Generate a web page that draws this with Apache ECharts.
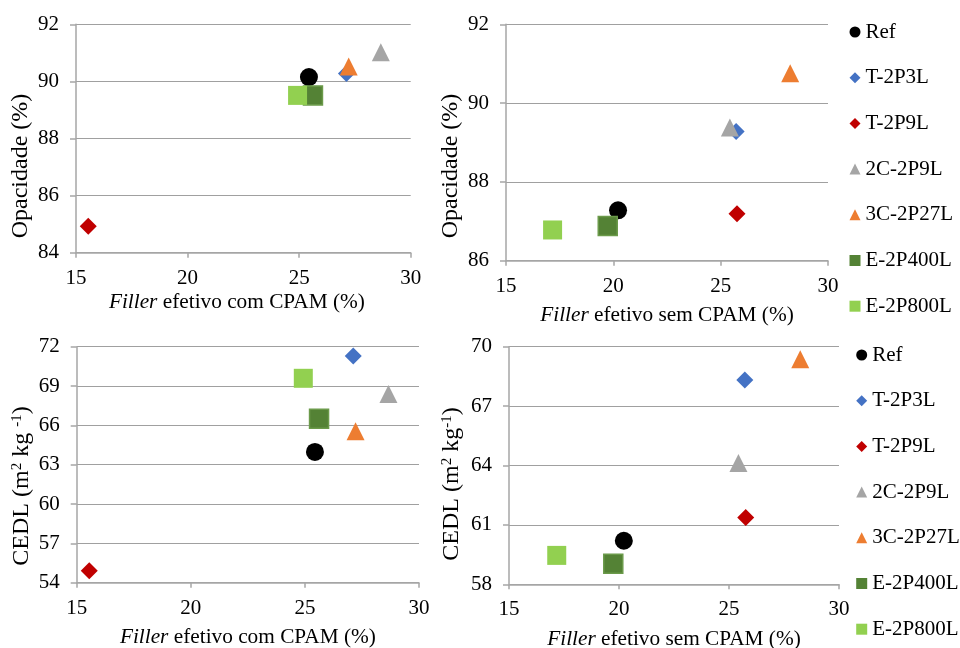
<!DOCTYPE html>
<html>
<head>
<meta charset="utf-8">
<script src="https://cdn.jsdelivr.net/npm/echarts@6/dist/echarts.min.js"></script>
<style>html,body{margin:0;padding:0;background:#fff}#c{width:960px;height:648px}</style>
</head>
<body>
<div id="c"></div>
<script>
const names = ['Ref','T-2P3L','T-2P9L','2C-2P9L','3C-2P27L','E-2P400L','E-2P800L'];
const colors = ['#000000','#4472C4','#C00000','#A5A5A5','#ED7D31','#548235','#92D050'];
const symbols = ['circle','diamond','diamond','triangle','triangle','rect','rect'];

const fillerCom = [25.44, 27.12, 15.55, 28.66, 27.22, 25.62, 24.93];
const fillerSem = [20.22, 25.72, 25.76, 25.43, 28.24, 19.74, 17.17];
const opacCom = [90.15, 90.28, 84.93, 91.02, 90.52, 89.51, 89.51];
const opacSem = [87.28, 89.28, 87.19, 89.38, 90.76, 86.88, 86.78];
const cedlCom = [63.97, 71.29, 54.91, 68.40, 65.55, 66.51, 69.59];
const cedlSem = [60.20, 68.32, 61.38, 64.12, 69.37, 59.04, 59.46];

const xTicks = [15, 20, 25, 30];
const yTicksOpacCom = [84, 86, 88, 90, 92];
const yTicksOpacSem = [86, 88, 90, 92];
const yTicksCedlCom = [54, 57, 60, 63, 66, 69, 72];
const yTicksCedlSem = [58, 61, 64, 67, 70];

const FONT = '"Liberation Serif", "Times New Roman", serif';
const symSizes = [18, 17, 17, 18, 18, 19, 19];

const grids = [
  {left: 76, top: 24.3, width: 334.7, height: 228.4},
  {left: 506, top: 24.3, width: 322, height: 236.4},
  {left: 76.7, top: 346.7, width: 342.3, height: 236},
  {left: 509, top: 346.7, width: 330, height: 237.6}
];
const panels = [
  {x: fillerCom, y: opacCom, yt: yTicksOpacCom, xname: '{i|Filler} efetivo com CPAM (%)', gap: 39, pad: [0, 13, 0, 0]},
  {x: fillerSem, y: opacSem, yt: yTicksOpacSem, xname: '{i|Filler} efetivo sem CPAM (%)', gap: 44, pad: 0},
  {x: fillerCom, y: cedlCom, yt: yTicksCedlCom, xname: '{i|Filler} efetivo com CPAM (%)', gap: 44, pad: 0},
  {x: fillerSem, y: cedlSem, yt: yTicksCedlSem, xname: '{i|Filler} efetivo sem CPAM (%)', gap: 45, pad: 0}
];

const axisLineStyle = {color: '#a6a6a6', width: 1.5};
const xAxes = [], yAxes = [], series = [];
panels.forEach((p, gi) => {
  xAxes.push({
    type: 'value', gridIndex: gi, min: xTicks[0], max: xTicks[xTicks.length - 1], interval: 5,
    axisLine: {show: true, lineStyle: axisLineStyle},
    axisTick: {show: true, length: 5, lineStyle: axisLineStyle},
    splitLine: {show: false},
    axisLabel: {fontFamily: FONT, fontSize: 21, color: '#000', margin: 15},
    name: p.xname, nameLocation: 'middle', nameGap: p.gap,
    nameTextStyle: {fontFamily: FONT, fontSize: 21.3, color: '#000', padding: p.pad,
      rich: {i: {fontStyle: 'italic', fontFamily: FONT, fontSize: 21.3, color: '#000'}}}
  });
  const yt = p.yt;
  const step = yt[1] - yt[0];
  const ya = {
    type: 'value', gridIndex: gi, min: yt[0], max: yt[yt.length - 1],
    axisLine: {show: true, lineStyle: axisLineStyle},
    axisTick: {show: true, length: 6, lineStyle: axisLineStyle},
    splitLine: {show: true, lineStyle: {color: '#a0a0a0', width: 1.2}},
    axisLabel: {fontFamily: FONT, fontSize: 21, color: '#000', margin: 17}
  };
  if (yt[0] % step === 0) {
    ya.interval = step;
  } else {
    ya.axisLabel.customValues = yt;
    ya.axisTick.customValues = yt;
  }
  yAxes.push(ya);
  names.forEach((n, si) => {
    const st = {color: colors[si], opacity: 1};
    if (si === 5) { st.borderColor = '#6b9a4a'; st.borderWidth = 1.5; }
    series.push({
      type: 'scatter', name: n, xAxisIndex: gi, yAxisIndex: gi,
      symbol: symbols[si], symbolSize: symSizes[si],
      itemStyle: st,
      data: [[p.x[si], p.y[si]]]
    });
  });
});

function legendAt(left, top) {
  return {
    orient: 'vertical', left: left, top: top, data: names, padding: 0,
    itemWidth: 11, itemHeight: 11, itemGap: 23.7,
    itemStyle: {borderWidth: 0},
    textStyle: {fontFamily: FONT, fontSize: 21, color: '#000', lineHeight: 22},
    selectedMode: false
  };
}

function yTitle(x, y, text) {
  return {
    type: 'text', x: x, y: y, rotation: Math.PI / 2,
    style: {
      text: text, fill: '#000', font: '24px ' + FONT,
      align: 'center', verticalAlign: 'middle', textAlign: 'center', textVerticalAlign: 'middle',
      rich: {s: {fontSize: 15, fontFamily: FONT, fill: '#000', verticalAlign: 'top', lineHeight: 14}}
    }
  };
}

const chart = echarts.init(document.getElementById('c'), null, {renderer: 'canvas'});
chart.setOption({
  animation: false,
  backgroundColor: '#fff',
  grid: grids.map(g => Object.assign({containLabel: false, outerBoundsMode: 'none'}, g)),
  xAxis: xAxes,
  yAxis: yAxes,
  legend: [legendAt(849.5, 21), legendAt(856.2, 344)],
  graphic: [
    yTitle(21, 166, 'Opacidade (%)'),
    yTitle(451, 166, 'Opacidade (%)'),
    yTitle(22, 486, 'CEDL (m{s|2} kg {s|-1})'),
    yTitle(452, 484, 'CEDL (m{s|2} kg{s|-1})')
  ],
  series: series
});
</script>
</body>
</html>
